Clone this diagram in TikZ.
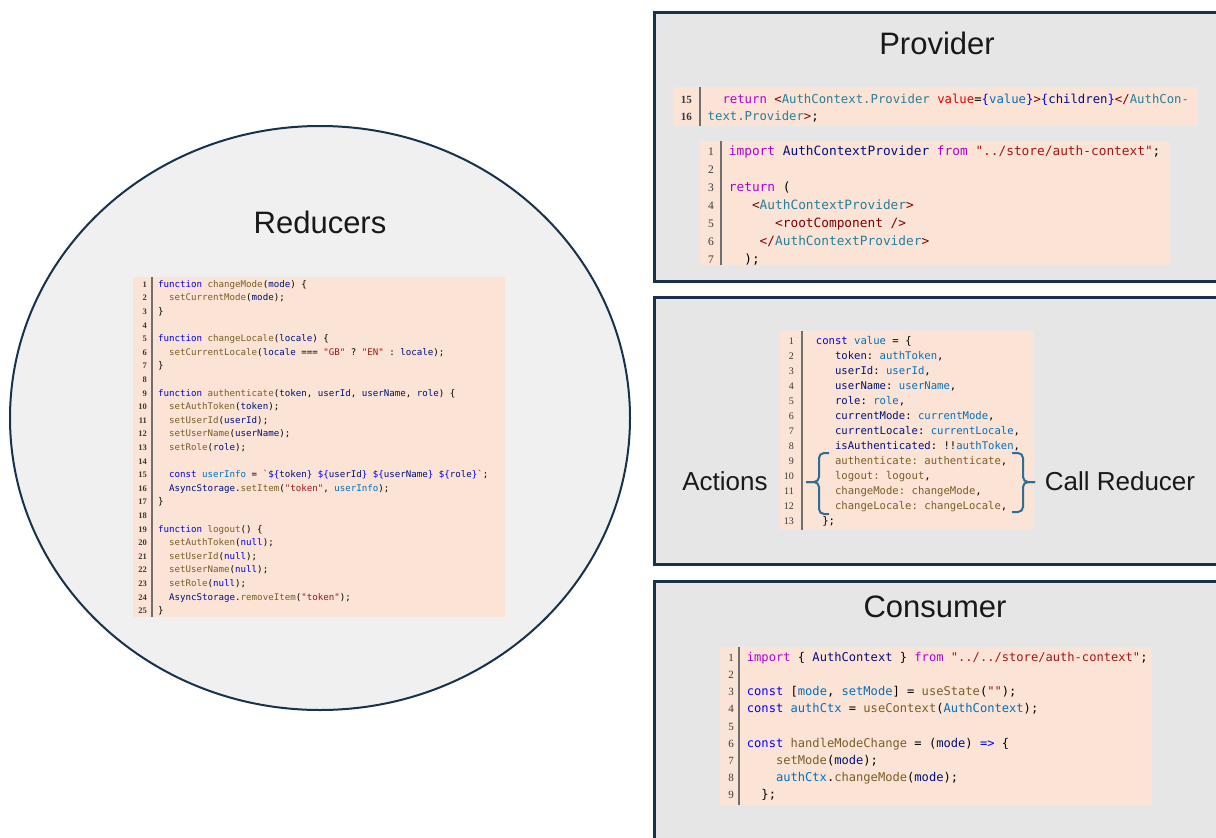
\documentclass[tikz,border=0pt]{standalone}
\usepackage{fontspec}
\setmainfont{Liberation Sans}
\setmonofont{DejaVu Sans Mono}
\newfontfamily\numfont{Liberation Serif}
\usetikzlibrary{shapes.geometric}
\definecolor{panelGray}{HTML}{E7E6E6}
\definecolor{ringGray}{HTML}{F0F0F0}
\definecolor{frameNavy}{HTML}{17324A}
\definecolor{codePeach}{HTML}{FBE3D6}
\definecolor{gutterGray}{HTML}{6F6F6F}
\definecolor{numGray}{HTML}{3A3A3A}
\definecolor{braceBlue}{HTML}{2E6E92}
\definecolor{jsKeyword}{HTML}{AF00DB}
\definecolor{jsStorage}{HTML}{0000FF}
\definecolor{jsFunc}{HTML}{795E26}
\definecolor{jsVar}{HTML}{001080}
\definecolor{jsConst}{HTML}{0070C1}
\definecolor{jsString}{HTML}{A31515}
\definecolor{jsType}{HTML}{267F99}
\definecolor{jsTag}{HTML}{800000}
\definecolor{jsAttr}{HTML}{E50000}
\newcommand\jK[1]{\textcolor{jsKeyword}{#1}}
\newcommand\jS[1]{\textcolor{jsStorage}{#1}}
\newcommand\jF[1]{\textcolor{jsFunc}{#1}}
\newcommand\jV[1]{\textcolor{jsVar}{#1}}
\newcommand\jC[1]{\textcolor{jsConst}{#1}}
\newcommand\jQ[1]{\textcolor{jsString}{#1}}
\newcommand\jT[1]{\textcolor{jsType}{#1}}
\newcommand\jG[1]{\textcolor{jsTag}{#1}}
\newcommand\jA[1]{\textcolor{jsAttr}{#1}}
\newcommand\jsInd[1]{\hspace*{#1\dimexpr0.602em\relax}}

\begin{document}
\begin{tikzpicture}[
    x=1pt, y=-1pt,
    panel/.style={draw=frameNavy, line width=2.5pt, fill=panelGray, anchor=north west, inner sep=0},
    codebg/.style={fill=codePeach, anchor=north west, inner sep=0},
    gutter/.style={draw=gutterGray, line width=1.4pt},
    code/.style 2 args={anchor=north west, inner sep=0, align=left, font=\ttfamily\fontsize{#1}{#2}\selectfont},
    linenos/.style 2 args={anchor=north east, inner sep=0, align=right, text=numGray, font=\numfont\fontsize{#1}{#2}\selectfont},
    title/.style={font=\fontsize{31}{36}\selectfont, text=black!90},
    side label/.style={font=\fontsize{26}{30}\selectfont, text=black!90},
    callbrace/.style={draw=braceBlue, line width=2pt, rounded corners=5pt},
  ]
  \clip (0,0) rectangle (1216,838);
  \fill[white] (0,0) rectangle (1216,838);

  % Reducers ring
  \node[ellipse, draw=frameNavy, line width=2pt, fill=ringGray, minimum width=620, minimum height=584, inner sep=0] (ring) at (320,418) {};
  \node[title] (redtitle) at (320,222) {Reducers};

  \node[codebg, minimum width=372, minimum height=340] (redbg) at (133,277) {};
  \draw[gutter] (152,277) -- (152,617);
  \node[linenos={8.5}{13.6}, font=\numfont\bfseries\fontsize{8.5}{13.6}\selectfont] (rednum) at (147,277.5)
    {\strut1\\2\\3\\4\\5\\6\\7\\8\\9\\10\\11\\12\\13\\14\\15\\16\\17\\18\\19\\20\\21\\22\\23\\24\\25};
  \node[code={9.14}{13.6}] (redcode) at (158,277.5) {%
    \strut\jS{function} \jF{changeMode}(\jV{mode}) \{\\
    \jsInd{2}\jF{setCurrentMode}(\jV{mode});\\
    \}\\
    \strut\\
    \jS{function} \jF{changeLocale}(\jV{locale}) \{\\
    \jsInd{2}\jF{setCurrentLocale}(\jV{locale} === \jQ{"GB"} ? \jQ{"EN"} : \jV{locale});\\
    \}\\
    \strut\\
    \jS{function} \jF{authenticate}(\jV{token}, \jV{userId}, \jV{userName}, \jV{role}) \{\\
    \jsInd{2}\jF{setAuthToken}(\jV{token});\\
    \jsInd{2}\jF{setUserId}(\jV{userId});\\
    \jsInd{2}\jF{setUserName}(\jV{userName});\\
    \jsInd{2}\jF{setRole}(\jV{role});\\
    \strut\\
    \jsInd{2}\jS{const} \jC{userInfo} = \jQ{`}\jS{\$\{}\jV{token}\jS{\}} \jS{\$\{}\jV{userId}\jS{\}} \jS{\$\{}\jV{userName}\jS{\}} \jS{\$\{}\jV{role}\jS{\}}\jQ{`};\\
    \jsInd{2}\jV{AsyncStorage}.\jF{setItem}(\jQ{"token"}, \jC{userInfo});\\
    \}\\
    \strut\\
    \jS{function} \jF{logout}() \{\\
    \jsInd{2}\jF{setAuthToken}(\jS{null});\\
    \jsInd{2}\jF{setUserId}(\jS{null});\\
    \jsInd{2}\jF{setUserName}(\jS{null});\\
    \jsInd{2}\jF{setRole}(\jS{null});\\
    \jsInd{2}\jV{AsyncStorage}.\jF{removeItem}(\jQ{"token"});\\
    \}};

  % Provider panel
  \node[panel, minimum width=600, minimum height=269] (provbox) at (653,11) {};
  \node[title] (provtitle) at (937,43) {Provider};

  \node[codebg, minimum width=525, minimum height=39] (provbg) at (673,87) {};
  \draw[gutter] (700,87) -- (700,126);
  \node[linenos={11}{17}, font=\numfont\bfseries\fontsize{11}{17}\selectfont] (provnum) at (692,91) {\strut15\\16};
  \node[code={12.3}{17}] (provcode) at (707.5,91) {%
    \strut\jsInd{2}\jK{return} \jG{<}\jT{AuthContext.Provider} \jA{value}=\jS{\{}\jC{value}\jS{\}}\jG{>}\jS{\{}\jV{children}\jS{\}}\jG{</}\jT{AuthCon-}\\
    \jT{text.Provider}\jG{>};};

  \node[codebg, minimum width=470, minimum height=124] (rootbg) at (700,141) {};
  \draw[gutter] (721,141) -- (721,265);
  \node[linenos={11.5}{17.9}] (rootnum) at (714,143) {\strut1\\2\\3\\4\\5\\6\\7};
  \node[code={12.8}{17.9}] (rootcode) at (728.7,143) {%
    \strut\jK{import} \jV{AuthContextProvider} \jK{from} \jQ{"../store/auth-context"};\\
    \strut\\
    \jK{return} (\\
    \jsInd{3}\jG{<}\jT{AuthContextProvider}\jG{>}\\
    \jsInd{6}\jG{<rootComponent />}\\
    \jsInd{4}\jG{</}\jT{AuthContextProvider}\jG{>}\\
    \jsInd{2});};

  % Value panel
  \node[panel, minimum width=600, minimum height=267] (valbox) at (653,296) {};
  \node[codebg, minimum width=254, minimum height=199] (valbg) at (780,331) {};
  \draw[gutter] (802,331) -- (802,530);
  \node[linenos={10}{15}] (valnum) at (794,333.8) {\strut1\\2\\3\\4\\5\\6\\7\\8\\9\\10\\11\\12\\13};
  \node[code={10.6}{15}] (valcode) at (815.7,333.8) {%
    \strut\jS{const} \jC{value} = \{\\
    \jsInd{3}\jV{token}: \jC{authToken},\\
    \jsInd{3}\jV{userId}: \jC{userId},\\
    \jsInd{3}\jV{userName}: \jC{userName},\\
    \jsInd{3}\jV{role}: \jC{role},\\
    \jsInd{3}\jV{currentMode}: \jC{currentMode},\\
    \jsInd{3}\jV{currentLocale}: \jC{currentLocale},\\
    \jsInd{3}\jV{isAuthenticated}: !!\jC{authToken},\\
    \jsInd{3}\jF{authenticate: authenticate},\\
    \jsInd{3}\jF{logout: logout},\\
    \jsInd{3}\jF{changeMode: changeMode},\\
    \jsInd{3}\jF{changeLocale: changeLocale},\\
    \jsInd{1}\};};

  \node[side label] (actions) at (725,481) {Actions};
  \node[side label] (callred) at (1120,481) {Call Reducer};
  % brackets round the action entries
  \draw[callbrace] (829,453) -| (819,482) -- (806,482);
  \draw[callbrace] (806,482) -- (819,482) |- (829,514);
  \draw[callbrace] (1012,453) -| (1023,482) -- (1035,482);
  \draw[callbrace] (1035,482) -- (1023,482) |- (1012,512);

  % Consumer panel
  \node[panel, minimum width=600, minimum height=300] (consbox) at (653,580) {};
  \node[title] (constitle) at (935,607) {Consumer};

  \node[codebg, minimum width=432, minimum height=158] (consbg) at (720,647) {};
  \draw[gutter] (739,647) -- (739,805);
  \node[linenos={11}{17.2}] (consnum) at (734,649) {\strut1\\2\\3\\4\\5\\6\\7\\8\\9};
  \node[code={12.1}{17.2}] (conscode) at (746.7,649) {%
    \strut\jK{import} \{ \jV{AuthContext} \} \jK{from} \jQ{"../../store/auth-context"};\\
    \strut\\
    \jS{const} [\jC{mode}, \jC{setMode}] = \jF{useState}(\jQ{""});\\
    \jS{const} \jC{authCtx} = \jF{useContext}(\jC{AuthContext});\\
    \strut\\
    \jS{const} \jF{handleModeChange} = (\jV{mode}) \jS{=>} \{\\
    \jsInd{4}\jF{setMode}(\jV{mode});\\
    \jsInd{4}\jC{authCtx}.\jF{changeMode}(\jV{mode});\\
    \jsInd{2}\};};
\end{tikzpicture}
\end{document}
